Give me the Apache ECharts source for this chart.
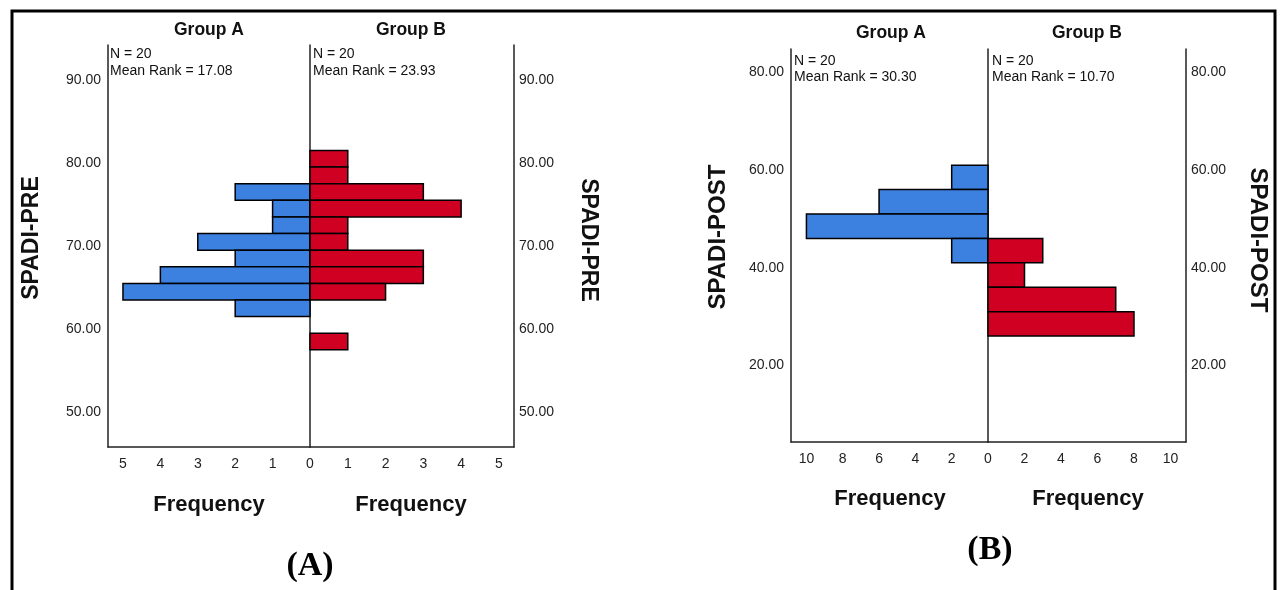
<!DOCTYPE html>
<html>
<head>
<meta charset="utf-8">
<script src="https://cdn.jsdelivr.net/npm/echarts@6/dist/echarts.min.js"></script>
<style>
  html, body { margin: 0; padding: 0; background: #fff; }
  #chart { width: 1280px; height: 590px; }
</style>
</head>
<body>
<div id="chart"></div>
<script>
// SPADI-PRE histogram (bin width 2), bin midpoints from top to bottom
var preMid = [80.5, 78.5, 76.5, 74.5, 72.5, 70.5, 68.5, 66.5, 64.5, 62.5, 60.5, 58.5];
var preGroupA = [0, 0, 2, 1, 1, 3, 2, 4, 5, 2, 0, 0];
var preGroupB = [1, 1, 3, 4, 1, 1, 3, 3, 2, 0, 0, 1];

// SPADI-POST histogram (bin width 5)
var postMid = [58.5, 53.5, 48.5, 43.5, 38.5, 33.5, 28.5];
var postGroupA = [2, 6, 10, 2, 0, 0, 0];
var postGroupB = [0, 0, 0, 3, 2, 7, 8];

var preTicks = [50, 60, 70, 80, 90];
var postTicks = [20, 40, 60, 80];
var preFreqTicks = [0, 1, 2, 3, 4, 5];
var postFreqTicks = [0, 2, 4, 6, 8, 10];

var blue = '#3c80e0';
var red = '#cf0022';
var font = '"Liberation Sans", Arial, sans-serif';

function bins(mids, counts, width) {
  var out = [];
  mids.forEach(function (m, i) {
    if (counts[i] > 0) out.push([m - width / 2, m + width / 2, counts[i]]);
  });
  return out;
}

function renderBar(params, api) {
  var lo = api.value(0), hi = api.value(1), n = api.value(2);
  var a = api.coord([0, hi]);
  var b = api.coord([n, lo]);
  return {
    type: 'rect',
    shape: { x: Math.min(a[0], b[0]), y: a[1], width: Math.abs(b[0] - a[0]), height: b[1] - a[1] },
    style: { fill: api.visual('color'), stroke: '#000', lineWidth: 1.5 }
  };
}

var lineStyle = { color: '#222', width: 1.5 };
var tickLabel = { color: '#222', fontSize: 14, fontFamily: font };

function yAx(grid, pos, min, max, ticks, labels) {
  return {
    type: 'value', gridIndex: grid, position: pos, min: min, max: max,
    axisLine: { show: true, onZero: false, lineStyle: lineStyle },
    axisTick: { show: false },
    splitLine: { show: false },
    axisLabel: labels ? Object.assign({ customValues: ticks, margin: pos === 'left' ? 7 : 5,
      formatter: function (v) { return v.toFixed(2); } }, tickLabel) : { show: false }
  };
}

function xAx(grid, max, ticks, inverse) {
  return {
    type: 'value', gridIndex: grid, min: 0, max: max, inverse: inverse,
    axisLine: { show: true, onZero: false, lineStyle: lineStyle },
    axisTick: { show: false },
    splitLine: { show: false },
    axisLabel: Object.assign({ customValues: ticks, margin: 10 }, tickLabel)
  };
}

function series(x, y, data, color) {
  return {
    type: 'custom', xAxisIndex: x, yAxisIndex: y, data: data,
    encode: { x: 2, y: [0, 1] }, itemStyle: { color: color },
    renderItem: renderBar
  };
}

function txt(x, y, text, size, bold, extra) {
  return Object.assign({
    type: 'text', x: x, y: y,
    style: {
      text: text, fill: '#111', font: (bold ? 'bold ' : '') + size + 'px ' + font,
      textAlign: 'center', textVerticalAlign: 'middle'
    }
  }, extra || {});
}

function note(x, y, text) {
  return {
    type: 'text', x: x, y: y,
    style: { text: text, fill: '#111', font: '14px ' + font, textAlign: 'left', textVerticalAlign: 'middle' }
  };
}

var chart = echarts.init(document.getElementById('chart'));

chart.setOption({
  animation: false,
  backgroundColor: '#fff',
  grid: [
    { left: 108, top: 45, width: 202, height: 402 },
    { left: 310, top: 45, width: 204, height: 402 },
    { left: 791, top: 49, width: 197, height: 393 },
    { left: 988, top: 49, width: 198, height: 393 }
  ],
  xAxis: [
    xAx(0, 5.4, preFreqTicks.slice(1), true),
    xAx(1, 5.4, preFreqTicks, false),
    xAx(2, 10.85, postFreqTicks.slice(1), true),
    xAx(3, 10.85, postFreqTicks, false)
  ],
  yAxis: [
    yAx(0, 'left', 45.8, 94.2, preTicks, true),
    yAx(1, 'right', 45.8, 94.2, preTicks, true),
    yAx(1, 'left', 45.8, 94.2, preTicks, false),
    yAx(2, 'left', 4.3, 84.8, postTicks, true),
    yAx(3, 'right', 4.3, 84.8, postTicks, true),
    yAx(3, 'left', 4.3, 84.8, postTicks, false)
  ],
  series: [
    series(0, 0, bins(preMid, preGroupA, 2), blue),
    series(1, 1, bins(preMid, preGroupB, 2), red),
    series(2, 3, bins(postMid, postGroupA, 5), blue),
    series(3, 4, bins(postMid, postGroupB, 5), red)
  ],
  graphic: [
    { type: 'rect', shape: { x: 12, y: 11, width: 1263, height: 600 },
      style: { fill: 'none', stroke: '#000', lineWidth: 3 } },
    txt(209, 30, 'Group A', 17.5, true),
    txt(411, 30, 'Group B', 17.5, true),
    txt(891, 33, 'Group A', 17.5, true),
    txt(1087, 33, 'Group B', 17.5, true),
    note(110, 54, 'N = 20'),
    note(110, 71, 'Mean Rank = 17.08'),
    note(313, 54, 'N = 20'),
    note(313, 71, 'Mean Rank = 23.93'),
    note(794, 61, 'N = 20'),
    note(794, 77, 'Mean Rank = 30.30'),
    note(992, 61, 'N = 20'),
    note(992, 77, 'Mean Rank = 10.70'),
    txt(32, 238, 'SPADI-PRE', 23, true, { rotation: Math.PI / 2 }),
    txt(588, 240, 'SPADI-PRE', 23, true, { rotation: -Math.PI / 2 }),
    txt(718, 237, 'SPADI-POST', 24, true, { rotation: Math.PI / 2 }),
    txt(1258, 240, 'SPADI-POST', 24, true, { rotation: -Math.PI / 2 }),
    txt(209, 505, 'Frequency', 22, true),
    txt(411, 505, 'Frequency', 22, true),
    txt(890, 499, 'Frequency', 22, true),
    txt(1088, 499, 'Frequency', 22, true),
    {
      type: 'text', x: 310, y: 566,
      style: { text: '(A)', fill: '#000', font: 'bold 34px "Liberation Serif", "Times New Roman", serif',
        textAlign: 'center', textVerticalAlign: 'middle' }
    },
    {
      type: 'text', x: 990, y: 550,
      style: { text: '(B)', fill: '#000', font: 'bold 34px "Liberation Serif", "Times New Roman", serif',
        textAlign: 'center', textVerticalAlign: 'middle' }
    }
  ]
});
</script>
</body>
</html>
